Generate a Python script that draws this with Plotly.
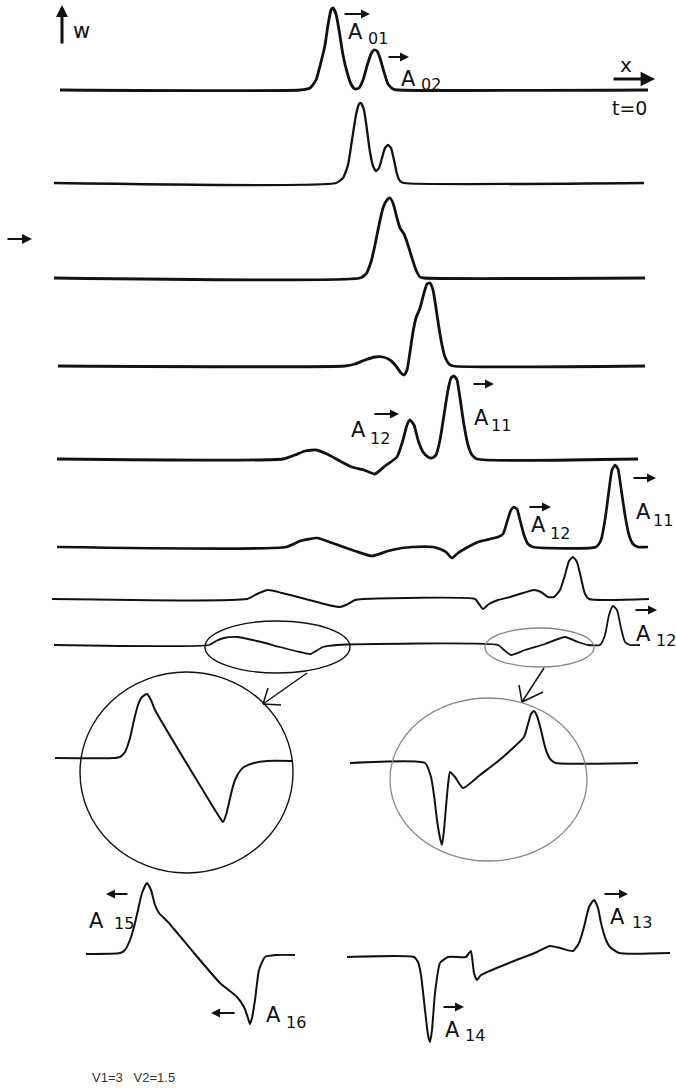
import plotly.graph_objects as go

# Wave profiles w(x) at successive times, sampled along each trace (page units).
row1_x = [60, 300, 310, 316, 321, 325, 328, 331, 333, 336, 339, 343, 347, 351, 355, 359, 363, 367, 371, 374, 377, 380, 384, 388, 393, 398, 648]
row1_y = [90, 90, 88, 80, 62, 45, 25, 10, 8, 14, 30, 55, 72, 84, 89, 88, 80, 66, 54, 50, 51, 58, 72, 84, 89, 90, 90]

row2_x = [54, 336, 343, 348, 352, 356, 359, 361, 364, 367, 370, 373, 376, 379, 382, 385, 388, 391, 394, 397, 400, 404, 644]
row2_y = [183, 183, 178, 165, 140, 115, 104, 103, 110, 130, 152, 166, 171, 168, 158, 148, 145, 148, 160, 174, 181, 183, 183]

row3_x = [54, 360, 366, 371, 375, 379, 383, 387, 390, 393, 397, 400, 404, 408, 412, 416, 420, 424, 645]
row3_y = [278, 278, 274, 262, 245, 225, 208, 200, 198, 203, 218, 228, 234, 245, 258, 270, 277, 278, 278]

row4_x = [58, 345, 355, 365, 375, 383, 390, 396, 401, 404, 407, 410, 413, 416, 420, 424, 427, 430, 433, 436, 439, 442, 445, 449, 453, 645]
row4_y = [366, 366, 364, 360, 357, 357, 360, 366, 373, 375, 370, 352, 332, 318, 308, 293, 284, 283, 290, 308, 328, 345, 357, 364, 366, 366]

row5_x = [57, 283, 295, 305, 316, 327, 340, 352, 364, 375, 385, 397, 403, 407, 410, 414, 418, 423, 428, 432, 436, 440, 444, 448, 451, 454, 457, 460, 464, 468, 472, 477, 638]
row5_y = [459, 459, 455, 451, 450, 454, 461, 467, 470, 474, 466, 457, 440, 425, 420, 425, 440, 452, 457, 458, 455, 440, 415, 390, 378, 376, 380, 398, 425, 445, 455, 459, 459]

row6_x = [57, 286, 300, 317, 335, 355, 372, 388, 402, 412, 433, 440, 446, 452, 458, 468, 478, 490, 498, 503, 507, 511, 514, 517, 520, 524, 528, 533, 596, 601, 605, 609, 612, 615, 618, 621, 625, 629, 633, 638, 648]
row6_y = [547, 547, 541, 538, 544, 551, 556, 551, 548, 547, 547, 549, 552, 558, 553, 547, 542, 539, 537, 534, 522, 510, 507, 509, 520, 535, 544, 547, 547, 540, 520, 490, 470, 465, 469, 488, 515, 535, 544, 547, 547]

row7_x = [52, 247, 257, 268, 282, 298, 313, 328, 340, 348, 355, 363, 475, 479, 483, 489, 498, 510, 523, 534, 541, 548, 554, 560, 565, 569, 573, 577, 581, 585, 589, 649]
row7_y = [599, 599, 594, 590, 593, 597, 601, 605, 607, 604, 600, 599, 599, 604, 609, 604, 600, 597, 593, 590, 592, 597, 597, 590, 575, 561, 557, 562, 578, 594, 599, 599]

row8_x = [54, 209, 216, 224, 237, 257, 280, 300, 310, 323, 337, 498, 504, 511, 525, 545, 565, 578, 588, 600, 605, 609, 613, 617, 621, 625, 630, 640]
row8_y = [645, 645, 641, 638, 637, 641, 647, 652, 654, 647, 645, 645, 650, 655, 650, 644, 637, 642, 645, 645, 635, 615, 606, 610, 628, 642, 645, 645]

# Magnified views of the two encircled disturbances.
zoomL_x = [55, 114, 120, 125, 130, 134, 138, 142, 147, 151, 155, 220, 223, 226, 228, 232, 235, 240, 244, 254, 267, 293]
zoomL_y = [758, 758, 757, 752, 738, 720, 705, 697, 694, 700, 710, 818, 822, 815, 807, 790, 780, 771, 767, 763, 761, 761]

zoomR_x = [350, 425, 431, 434, 437, 440, 442, 444, 446, 448, 450, 455, 463, 480, 497, 513, 524, 528, 531, 534, 537, 541, 544, 547, 551, 556, 638]
zoomR_y = [763, 763, 777, 795, 820, 838, 845, 830, 807, 785, 772, 777, 788, 775, 762, 748, 737, 724, 714, 711, 716, 730, 743, 753, 760, 763, 763]

# Final split pulses.
lowL_x = [86, 120, 125, 130, 134, 138, 142, 147, 151, 155, 159, 168, 194, 220, 237, 244, 248, 250, 252, 255, 259, 265, 276, 295]
lowL_y = [954, 953, 950, 940, 927, 910, 893, 883, 890, 905, 913, 922, 953, 983, 997, 1007, 1018, 1024, 1018, 1000, 970, 957, 955, 955]

lowR_x = [347, 414, 418, 421, 425, 428, 430, 432, 435, 440, 448, 466, 469, 471, 474, 477, 481, 509, 537, 550, 560, 573, 579, 584, 589, 594, 598, 601, 606, 610, 619, 670]
lowR_y = [957, 957, 962, 975, 1010, 1035, 1042, 1030, 993, 963, 957, 957, 953, 951, 973, 980, 975, 963, 952, 946, 948, 951, 943, 927, 907, 900, 908, 923, 940, 947, 953, 953]

traces = [
    (row1_x, row1_y, 2.8), (row2_x, row2_y, 2.3), (row3_x, row3_y, 2.8),
    (row4_x, row4_y, 2.8), (row5_x, row5_y, 2.8), (row6_x, row6_y, 2.7),
    (row7_x, row7_y, 2.0), (row8_x, row8_y, 1.8),
    (zoomL_x, zoomL_y, 2.0), (zoomR_x, zoomR_y, 2.0),
    (lowL_x, lowL_y, 2.0), (lowR_x, lowR_y, 2.0),
]

fig = go.Figure()
for xs, ys, w in traces:
    fig.add_trace(go.Scatter(x=xs, y=ys, mode="lines",
                             line=dict(color="#111", width=w, shape="spline", smoothing=0.5),
                             hoverinfo="skip", showlegend=False))

FONT = "DejaVu Sans"

# Wave labels: (name, subscript, A x, A y, sub x, sub y, arrow x0, arrow x1, arrow y)
labels = [
    ("A", "01", 355, 32, 378, 38, 343, 370, 14),
    ("A", "02", 408, 79, 431, 84, 387, 409, 57),
    ("A", "12", 358, 430, 380, 438, 373, 399, 414),
    ("A", "11", 481, 418, 501, 425, 472, 494, 384),
    ("A", "12", 538, 525, 560, 533, 528, 551, 507),
    ("A", "11", 643, 512, 663, 520, 632, 656, 478),
    ("A", "12", 643, 634, 666, 640, 634, 657, 610),
    ("A", "15", 96, 921, 124, 923, 129, 106, 894),
    ("A", "16", 273, 1015, 296, 1022, 236, 211, 1013),
    ("A", "13", 617, 917, 642, 922, 603, 628, 894),
    ("A", "14", 452, 1030, 475, 1035, 442, 464, 1007),
]

anns = []
for a, sub, ax_, ay_, sx, sy, x0, x1, yarr in labels:
    anns.append(dict(x=ax_, y=ay_, text=a, showarrow=False, xanchor="center", yanchor="middle",
                     font=dict(family=FONT, size=21, color="#111")))
    anns.append(dict(x=sx, y=sy, text=sub, showarrow=False, xanchor="center", yanchor="middle",
                     font=dict(family=FONT, size=16, color="#111")))
    anns.append(dict(x=x1, y=yarr, ax=x0, ay=yarr, axref="x", ayref="y", xref="x", yref="y",
                     text="", showarrow=True, arrowhead=2, arrowsize=1, arrowwidth=1.8,
                     arrowcolor="#111"))

# Axis hints and captions
anns += [
    dict(x=62, y=5, ax=62, ay=45, axref="x", ayref="y", text="", showarrow=True,
         arrowhead=2, arrowsize=0.8, arrowwidth=3, arrowcolor="#111"),
    dict(x=81, y=31, text="w", showarrow=False, font=dict(family=FONT, size=21, color="#111")),
    dict(x=626, y=65, text="x", showarrow=False, font=dict(family=FONT, size=20, color="#111")),
    dict(x=655, y=79, ax=612, ay=79, axref="x", ayref="y", text="", showarrow=True,
         arrowhead=2, arrowsize=0.9, arrowwidth=3.2, arrowcolor="#111"),
    dict(x=629, y=108, text="t=0", showarrow=False, font=dict(family=FONT, size=19, color="#111")),
    dict(x=32, y=239, ax=6, ay=239, axref="x", ayref="y", text="", showarrow=True,
         arrowhead=2, arrowsize=1, arrowwidth=2, arrowcolor="#111"),
    dict(x=90, y=1077, text="V1=3&nbsp;&nbsp;&nbsp;V2=1.5", showarrow=False, xanchor="left",
         font=dict(family="Liberation Sans", size=13, color="#333")),
]

shapes = [
    # selection ellipses on the last profile
    dict(type="circle", x0=205, x1=350, y0=621, y1=673, line=dict(color="#111", width=1.4)),
    dict(type="circle", x0=485, x1=594, y0=628, y1=667, line=dict(color="#888", width=1.3)),
    # magnification circles
    dict(type="circle", x0=80, x1=293, y0=672, y1=873, line=dict(color="#111", width=1.4)),
    dict(type="circle", x0=390, x1=587, y0=698, y1=861, line=dict(color="#888", width=1.3)),
    # pointers from ellipses to circles
    dict(type="line", x0=307, y0=673, x1=263, y1=704, line=dict(color="#111", width=1.5)),
    dict(type="line", x0=263, y0=704, x1=281, y1=705, line=dict(color="#111", width=1.5)),
    dict(type="line", x0=263, y0=704, x1=268, y1=688, line=dict(color="#111", width=1.5)),
    dict(type="line", x0=544, y0=668, x1=522, y1=702, line=dict(color="#111", width=1.5)),
    dict(type="line", x0=522, y0=702, x1=543, y1=692, line=dict(color="#111", width=1.5)),
    dict(type="line", x0=522, y0=702, x1=519, y1=685, line=dict(color="#111", width=1.5)),
]

fig.update_layout(
    width=676, height=1088, margin=dict(l=0, r=0, t=0, b=0),
    paper_bgcolor="white", plot_bgcolor="white",
    xaxis=dict(range=[0, 676], visible=False, fixedrange=True),
    yaxis=dict(range=[1088, 0], visible=False, fixedrange=True),
    annotations=anns, shapes=shapes, showlegend=False,
)

fig.write_html("out.html", config={"displayModeBar": False})
